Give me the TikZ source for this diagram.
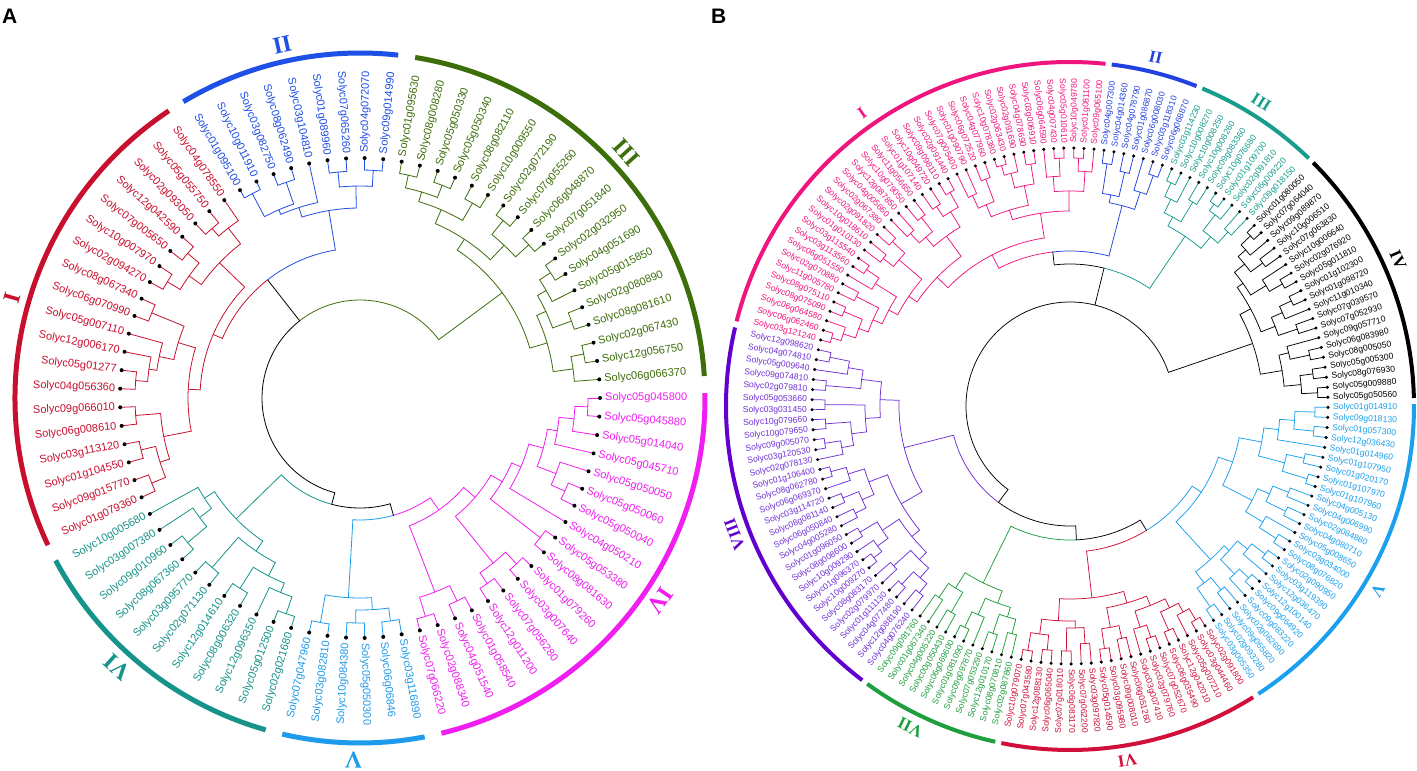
\documentclass[tikz,border=0pt]{standalone}
\usepackage{fontspec}
\setmainfont{Liberation Sans}
\newfontfamily\lserif{Liberation Serif}
\definecolor{cA1}{HTML}{C8102E}
\definecolor{cA2}{HTML}{1E4FE6}
\definecolor{cA3}{HTML}{3C6E0A}
\definecolor{cA4}{HTML}{F01EF0}
\definecolor{cA5}{HTML}{1E9BEB}
\definecolor{cA6}{HTML}{16938A}
\definecolor{cB1}{HTML}{F0147F}
\definecolor{cB2}{HTML}{2141E0}
\definecolor{cB3}{HTML}{179C8E}
\definecolor{cB4}{HTML}{000000}
\definecolor{cB5}{HTML}{1AA0EE}
\definecolor{cB6}{HTML}{D0103A}
\definecolor{cB7}{HTML}{1E9E3C}
\definecolor{cB8}{HTML}{7030D8}
\definecolor{rB8}{HTML}{6200D0}
\newcommand\Pos[1]{\csname P@#1\endcsname}
\newcommand\RadL[4]{%
  \pgfmathsetmacro\tkA{\off+(#1)*\stp}%
  \pgfmathsetmacro\tkR{#2}\pgfmathsetmacro\tkS{#3}%
  \draw[br,#4,shift={(\cx pt,\cy pt)}] (\tkA:\tkR pt) -- (\tkA:\tkS pt);}
\newcommand\ArcL[4]{%
  \pgfmathsetmacro\tkA{\off+(#2)*\stp}%
  \pgfmathsetmacro\tkB{\off+(#3)*\stp}%
  \pgfmathsetmacro\tkR{#1}%
  \draw[br,#4,shift={(\cx pt,\cy pt)}] (\tkA:\tkR pt) arc[start angle=\tkA,end angle=\tkB,radius=\tkR pt];}
\newcommand\Nd[4]{%
  \gdef\pmn{10000}\gdef\pmx{-10000}%
  \foreach \ch in {#4}{%
    \edef\pp{\csname P@\ch\endcsname}%
    \edef\rr{\csname R@\ch\endcsname}%
    \RadL{\pp}{#2}{\rr}{#3}%
    \pgfmathsetmacro\tmpv{min(\pmn,\pp)}\xdef\pmn{\tmpv}%
    \pgfmathsetmacro\tmpv{max(\pmx,\pp)}\xdef\pmx{\tmpv}%
  }%
  \ArcL{#2}{\pmn}{\pmx}{#3}%
  \pgfmathsetmacro\tmpv{(\pmn+\pmx)/2}%
  \expandafter\xdef\csname P@#1\endcsname{\tmpv}%
  \expandafter\xdef\csname R@#1\endcsname{#2}}
\newcommand\Jn[6]{%
  \edef\pA{\csname P@#3\endcsname}\edef\rA{\csname R@#3\endcsname}%
  \edef\pB{\csname P@#5\endcsname}\edef\rB{\csname R@#5\endcsname}%
  \pgfmathsetmacro\pM{(\pA+\pB)/2}%
  \RadL{\pA}{#2}{\rA}{#4}\RadL{\pB}{#2}{\rB}{#6}%
  \ArcL{#2}{\pA}{\pM}{#4}\ArcL{#2}{\pM}{\pB}{#6}%
  \expandafter\xdef\csname P@#1\endcsname{\pM}%
  \expandafter\xdef\csname R@#1\endcsname{#2}}
\newcommand\InitLeaves[3]{%
  \foreach \i in {1,...,#2}{%
    \expandafter\xdef\csname P@#1\i\endcsname{\i}%
    \expandafter\xdef\csname R@#1\i\endcsname{#3}}}
\newcommand\Lab[3]{%
  \pgfmathsetmacro\tkA{\off+(#1)*\stp}%
  \pgfmathsetmacro\tkX{\cx+\LR*cos(\tkA)}%
  \pgfmathsetmacro\tkY{\cy+\LR*sin(\tkA)}%
  \fill (\tkX pt,\tkY pt) circle[radius=\dotr pt];
  \pgfmathsetmacro\tkX{\cx+(\LR+\lgap)*cos(\tkA)}%
  \pgfmathsetmacro\tkY{\cy+(\LR+\lgap)*sin(\tkA)}%
  \pgfmathtruncatemacro\side{(cos(\tkA)>0.0001)?1:0}%
  \ifnum\side=1
    \node[anchor=west,rotate=\tkA,text=#3,font=\labfont,inner sep=0pt] (\pfx#1) at (\tkX pt,\tkY pt) {#2};%
  \else
    \pgfmathsetmacro\tkB{\tkA+180}%
    \node[anchor=east,rotate=\tkB,text=#3,font=\labfont,inner sep=0pt] (\pfx#1) at (\tkX pt,\tkY pt) {#2};%
  \fi}
\newcommand\Ring[4]{%
  \pgfmathsetmacro\tkA{\off+(#1)*\stp-#4}\pgfmathsetmacro\tkB{\off+(#2)*\stp+#4}%
  \draw[#3,line width=\ringw pt,shift={(\cx pt,\cy pt)}] (\tkA:\ringr pt) arc[start angle=\tkA,end angle=\tkB,radius=\ringr pt];}
\newcommand\Num[4]{%
  \pgfmathsetmacro\tkX{\cx+\numr*cos(#2)}%
  \pgfmathsetmacro\tkY{\cy+\numr*sin(#2)}%
  \pgfmathsetmacro\tkB{#2-90}%
  \node[rotate=\tkB,text=#4,font=\numfont,inner sep=0pt] (#1) at (\tkX pt,\tkY pt) {#3};}
\begin{document}
\begin{tikzpicture}[x=1pt,y=1pt]
\useasboundingbox[fill=white] (0,0) rectangle (1417,-771);
\node[font=\bfseries\fontsize{21}{24}\selectfont,anchor=north west,inner sep=0pt] (pA) at (2,-9) {A};
\node[font=\bfseries\fontsize{21}{24}\selectfont,anchor=north west,inner sep=0pt] (pB) at (711,-9) {B};
% ================= PANEL A =================
\def\cx{360}\def\cy{-398}\def\off{0}\def\stp{4.44444}\def\LR{240}
\def\dotr{2}\def\lgap{5}\def\pfx{la}\def\labfont{\fontsize{11}{13}\selectfont}
\def\ringr{345}\def\ringw{5}\def\numr{362}\def\numfont{\lserif\bfseries\fontsize{24}{26}\selectfont}
\tikzset{br/.style={line width=0.8pt,line cap=round}}
\InitLeaves{a}{81}{240}
% III
\Nd{Ax1}{228}{cA3}{a2,a3}
\Nd{Ax2}{215}{cA3}{a1,Ax1}
\Nd{Ax3}{225}{cA3}{a4,a5}
\Nd{Ax4}{228}{cA3}{a7,a8}
\Nd{Ax5}{215}{cA3}{a6,Ax4}
\Nd{Ax6}{205}{cA3}{Ax3,Ax5}
\Nd{Ax7}{195}{cA3}{Ax2,Ax6}
\Nd{Ax8}{228}{cA3}{a9,a10}
\Nd{Ax9}{228}{cA3}{a11,a12}
\Nd{Ax10}{210}{cA3}{Ax8,Ax9}
\Nd{Ax11}{225}{cA3}{a13,a14}
\Nd{Ax12}{228}{cA3}{a15,a16}
\Nd{Ax13}{228}{cA3}{a17,a18}
\Nd{Ax14}{215}{cA3}{Ax12,Ax13}
\Nd{Ax15}{205}{cA3}{Ax11,Ax14}
\Nd{Ax16}{190}{cA3}{Ax10,Ax15}
\Nd{AIII}{177}{cA3}{Ax7,Ax16}
% II
\Nd{Ay1}{228}{cA2}{a19,a20}
\Nd{Ay2}{227}{cA2}{a21,a22}
\Nd{Ay3}{212}{cA2}{Ay1,Ay2}
\Nd{Ay4}{228}{cA2}{a24,a25}
\Nd{Ay5}{231}{cA2}{a26,a27}
\Nd{Ay6}{205}{cA2}{Ay4,Ay5}
\Nd{Ay7}{200}{cA2}{a23,Ay6}
\Nd{AII}{190}{cA2}{Ay3,Ay7}
% I
\Nd{Az1}{225}{cA1}{a29,a30}
\Nd{Az2}{215}{cA1}{a28,Az1}
\Nd{Az3}{225}{cA1}{a31,a32}
\Nd{Az4}{225}{cA1}{a33,a34}
\Nd{Az5}{210}{cA1}{Az3,Az4}
\Nd{Az6}{195}{cA1}{Az2,Az5}
\Nd{Az7}{225}{cA1}{a35,a36}
\Nd{Az8}{225}{cA1}{a39,a40}
\Nd{Az9}{213}{cA1}{a38,Az8}
\Nd{Az10}{205}{cA1}{a37,Az9}
\Nd{Az11}{190}{cA1}{Az7,Az10}
\Nd{Az12}{225}{cA1}{a41,a42}
\Nd{Az13}{225}{cA1}{a43,a44}
\Nd{Az14}{225}{cA1}{a45,a46}
\Nd{Az15}{210}{cA1}{Az13,Az14}
\Nd{Az16}{200}{cA1}{Az12,Az15}
\Nd{Az17}{172}{cA1}{Az11,Az16}
\Nd{AI}{160}{cA1}{Az6,Az17}
\Jn{AI2}{150}{AII}{cA2}{AI}{cA1}
% VI
\Nd{Aw1}{225}{cA6}{a49,a50}
\Nd{Aw2}{200}{cA6}{a48,Aw1}
\Nd{Aw3}{185}{cA6}{a47,Aw2}
\Nd{Aw4}{225}{cA6}{a51,a52}
\Nd{Aw5}{225}{cA6}{a53,a54}
\Nd{Aw6}{228}{cA6}{a56,a57}
\Nd{Aw7}{210}{cA6}{a55,Aw6}
\Nd{Aw8}{200}{cA6}{Aw5,Aw7}
\Nd{Aw9}{185}{cA6}{Aw4,Aw8}
\Nd{AVI}{173}{cA6}{Aw3,Aw9}
% V
\Nd{Av1}{228}{cA5}{a58,a59}
\Nd{Av2}{225}{cA5}{a60,a61}
\Nd{Av3}{225}{cA5}{a62,a63}
\Nd{Av4}{212}{cA5}{Av2,Av3}
\Nd{AV}{200}{cA5}{Av1,Av4}
% IV
\Nd{Au1}{228}{cA4}{a64,a65}
\Nd{Au2}{225}{cA4}{a66,a67}
\Nd{Au3}{208}{cA4}{Au1,Au2}
\Nd{Au4}{225}{cA4}{a68,a69}
\Nd{Au5}{228}{cA4}{a70,a71}
\Nd{Au6}{212}{cA4}{Au4,Au5}
\Nd{Au7}{228}{cA4}{a72,a73}
\Nd{Au8}{225}{cA4}{a75,a76}
\Nd{Au9}{210}{cA4}{Au8,a77}
\Nd{Au10}{228}{cA4}{a80,a81}
\Nd{Au11}{215}{cA4}{a79,Au10}
\Nd{Au12}{200}{cA4}{a78,Au11}
\Nd{Au13}{190}{cA4}{Au9,Au12}
\Nd{Au14}{175}{cA4}{a74,Au13}
\Nd{Au15}{165}{cA4}{Au7,Au14}
\Nd{Au16}{152}{cA4}{Au6,Au15}
\Nd{AIV}{137}{cA4}{Au3,Au16}
\Jn{AVIV}{122}{AV}{cA5}{AIV}{cA4}
\Jn{ALow}{110}{AVI}{cA6}{AVIV}{black}
% root A
\ArcL{98}{\Pos{AIII}}{\Pos{AI2}}{cA3}
\ArcL{98}{\Pos{AI2}}{\Pos{ALow}}{black}
\RadL{\Pos{AIII}}{98}{177}{cA3}
\RadL{\Pos{AI2}}{98}{150}{black}
\RadL{\Pos{ALow}}{98}{110}{black}
% labels A
\foreach \i/\tx in {1/Solyc06g066370,2/Solyc12g056750,3/Solyc02g067430,4/Solyc08g081610,5/Solyc02g080890,6/Solyc05g015850,7/Solyc04g051690,8/Solyc02g032950,9/Solyc07g051840,10/Solyc06g048870,11/Solyc07g055260,12/Solyc02g072190,13/Solyc10g009550,14/Solyc08g082110,15/Solyc05g050340,16/Solyc05g050330,17/Solyc08g008280,18/Solyc01g095630}{\Lab{\i}{\tx}{cA3}}
\foreach \i/\tx in {19/Solyc09g014990,20/Solyc04g072070,21/Solyc07g065260,22/Solyc01g089960,23/Solyc03g104810,24/Solyc08g062490,25/Solyc03g082750,26/Solyc10g011910,27/Solyc01g095100}{\Lab{\i}{\tx}{cA2}}
\foreach \i/\tx in {28/Solyc04g078550,29/Solyc05g055750,30/Solyc02g093050,31/Solyc12g042590,32/Solyc07g005650,33/Solyc10g007970,34/Solyc02g094270,35/Solyc08g067340,36/Solyc06g070990,37/Solyc05g007110,38/Solyc12g006170,39/Solyc05g01277,40/Solyc04g056360,41/Solyc09g066010,42/Solyc06g008610,43/Solyc03g113120,44/Solyc01g104550,45/Solyc09g015770,46/Solyc01g079360}{\Lab{\i}{\tx}{cA1}}
\foreach \i/\tx in {47/Solyc10g005680,48/Solyc03g007380,49/Solyc09g010960,50/Solyc08g067360,51/Solyc03g095770,52/Solyc02g071130,53/Solyc12g014610,54/Solyc08g006320,55/Solyc12g096350,56/Solyc05g012500,57/Solyc02g021680}{\Lab{\i}{\tx}{cA6}}
\foreach \i/\tx in {58/Solyc07g047960,59/Solyc03g082810,60/Solyc10g084380,61/Solyc05g050300,62/Solyc06g06846,63/Solyc03g116890}{\Lab{\i}{\tx}{cA5}}
\foreach \i/\tx in {64/Solyc07g066220,65/Solyc02g088340,66/Solyc04g051540,67/Solyc01g058540,68/Solyc12g011200,69/Solyc07g056280,70/Solyc03g007640,71/Solyc01g079260,72/Solyc08g081630,73/Solyc05g053380,74/Solyc04g050210,75/Solyc05g050040,76/Solyc05g050060,77/Solyc05g050050,78/Solyc05g045710,79/Solyc05g014040,80/Solyc05g045880,81/Solyc05g045800}{\Lab{\i}{\tx}{cA4}}
% rings A
\Ring{28}{46}{cA1}{0.8}
\Ring{19}{27}{cA2}{0.8}
\Ring{1}{18}{cA3}{0.8}
\Ring{64}{81}{cA4}{0.8}
\Ring{58}{63}{cA5}{0.8}
\Ring{47}{57}{cA6}{0.8}
\Num{nAI}{164}{I}{cA1}
\Num{nAII}{102.4}{II}{cA2}
\Num{nAIII}{42.6}{III}{cA3}
\Num{nAIV}{326}{IV}{cA4}
\Num{nAV}{269}{V}{cA5}
\Num{nAVI}{228}{VI}{cA6}
% ================= PANEL B =================
\def\cx{1070}\def\cy{-406}\def\off{-0.3}\def\stp{2.23602}\def\LR{258}
\def\dotr{1.7}\def\lgap{5}\def\pfx{lb}\def\labfont{\fontsize{8.6}{10}\selectfont}
\def\ringr{344}\def\ringw{4}\def\numr{359}\def\numfont{\lserif\bfseries\fontsize{17}{19}\selectfont}
\tikzset{br/.style={line width=0.75pt,line cap=round}}
\InitLeaves{b}{161}{258}
% IV
\Nd{Bd1}{248}{cB4}{b1,b2}
\Nd{Bd2}{245}{cB4}{b3,b4}
\Nd{Bd3}{232}{cB4}{Bd1,Bd2}
\Nd{Bd4}{245}{cB4}{b5,b6}
\Nd{Bd5}{225}{cB4}{Bd4,b7}
\Nd{Bd6}{215}{cB4}{Bd3,Bd5}
\Nd{Bd7}{240}{cB4}{b8,b9}
\Nd{Bd8}{245}{cB4}{b11,b12}
\Nd{Bd9}{232}{cB4}{b10,Bd8}
\Nd{Bd10}{220}{cB4}{Bd7,Bd9}
\Nd{Bd11}{245}{cB4}{b13,b14}
\Nd{Bd12}{230}{cB4}{Bd11,b15}
\Nd{Bd13}{240}{cB4}{b16,b17}
\Nd{Bd14}{248}{cB4}{b19,b20}
\Nd{Bd15}{235}{cB4}{b18,Bd14}
\Nd{Bd16}{225}{cB4}{Bd13,Bd15}
\Nd{Bd17}{212}{cB4}{Bd12,Bd16}
\Nd{Bd18}{205}{cB4}{Bd10,Bd17}
\Nd{BIV}{193}{cB4}{Bd6,Bd18}
% III
\Nd{Bc1}{235}{cB3}{b21,b22}
\Nd{Bc2}{248}{cB3}{b24,b25}
\Nd{Bc3}{240}{cB3}{b23,Bc2}
\Nd{Bc4}{220}{cB3}{Bc1,Bc3}
\Nd{Bc5}{238}{cB3}{b26,b27}
\Nd{Bc6}{245}{cB3}{b29,b30}
\Nd{Bc7}{230}{cB3}{b28,Bc6}
\Nd{Bc8}{215}{cB3}{Bc5,Bc7}
\Nd{BIII}{205}{cB3}{Bc4,Bc8}
% II
\Nd{Bb1}{245}{cB2}{b31,b32}
\Nd{Bb2}{225}{cB2}{Bb1,b33}
\Nd{Bb3}{240}{cB2}{b34,b35}
\Nd{Bb4}{245}{cB2}{b36,b37}
\Nd{Bb5}{215}{cB2}{Bb3,Bb4}
\Nd{BII}{207}{cB2}{Bb2,Bb5}
% I
\Nd{Ba1}{248}{cB1}{b39,b40}
\Nd{Ba2}{235}{cB1}{b38,Ba1}
\Nd{Ba3}{248}{cB1}{b41,b42}
\Nd{Ba4}{230}{cB1}{Ba3,b43}
\Nd{Ba5}{215}{cB1}{Ba2,Ba4}
\Nd{Ba6}{245}{cB1}{b44,b45}
\Nd{Ba7}{250}{cB1}{b47,b48}
\Nd{Ba8}{240}{cB1}{b46,Ba7}
\Nd{Ba9}{225}{cB1}{Ba6,Ba8}
\Nd{Ba10}{242}{cB1}{b49,b50}
\Nd{Ba11}{232}{cB1}{b51,b52}
\Nd{Ba12}{218}{cB1}{Ba10,Ba11}
\Nd{Ba13}{205}{cB1}{Ba9,Ba12}
\Nd{Ba14}{195}{cB1}{Ba5,Ba13}
\Nd{Ba15}{245}{cB1}{b53,b54}
\Nd{Ba16}{240}{cB1}{b55,b56}
\Nd{Ba17}{228}{cB1}{Ba15,Ba16}
\Nd{Ba18}{240}{cB1}{b57,b58}
\Nd{Ba19}{235}{cB1}{b59,b60}
\Nd{Ba20}{222}{cB1}{Ba18,Ba19}
\Nd{Ba21}{210}{cB1}{Ba17,Ba20}
\Nd{Ba22}{242}{cB1}{b61,b62}
\Nd{Ba23}{238}{cB1}{b63,b64}
\Nd{Ba24}{225}{cB1}{Ba22,Ba23}
\Nd{Ba25}{245}{cB1}{b65,b66}
\Nd{Ba26}{230}{cB1}{Ba25,b67}
\Nd{Ba27}{240}{cB1}{b68,b69}
\Nd{Ba28}{245}{cB1}{b70,b71}
\Nd{Ba29}{248}{cB1}{b73,b74}
\Nd{Ba30}{238}{cB1}{b72,Ba29}
\Nd{Ba31}{225}{cB1}{Ba28,Ba30}
\Nd{Ba32}{215}{cB1}{Ba27,Ba31}
\Nd{Ba33}{205}{cB1}{Ba26,Ba32}
\Nd{Ba34}{195}{cB1}{Ba24,Ba33}
\Nd{Ba35}{185}{cB1}{Ba21,Ba34}
\Nd{BI}{170}{cB1}{Ba14,Ba35}
\Jn{BN5}{155}{BII}{cB2}{BI}{cB1}
\Jn{BN4}{142}{BIII}{cB3}{BN5}{black}
% VIII
\Nd{Bh1}{245}{cB8}{b75,b76}
\Nd{Bh2}{225}{cB8}{Bh1,b77}
\Nd{Bh3}{245}{cB8}{b78,b79}
\Nd{Bh4}{210}{cB8}{Bh2,Bh3}
\Nd{Bh5}{245}{cB8}{b80,b81}
\Nd{Bh6}{245}{cB8}{b82,b83}
\Nd{Bh7}{248}{cB8}{b84,b85}
\Nd{Bh8}{232}{cB8}{Bh7,b86}
\Nd{Bh9}{220}{cB8}{Bh6,Bh8}
\Nd{Bh10}{205}{cB8}{Bh5,Bh9}
\Nd{Bh11}{190}{cB8}{Bh4,Bh10}
\Nd{Bh12}{248}{cB8}{b87,b88}
\Nd{Bh13}{232}{cB8}{Bh12,b89}
\Nd{Bh14}{245}{cB8}{b90,b91}
\Nd{Bh15}{240}{cB8}{b92,b93}
\Nd{Bh16}{228}{cB8}{Bh14,Bh15}
\Nd{Bh17}{215}{cB8}{Bh13,Bh16}
\Nd{Bh18}{245}{cB8}{b94,b95}
\Nd{Bh19}{248}{cB8}{b97,b98}
\Nd{Bh20}{238}{cB8}{b96,Bh19}
\Nd{Bh21}{225}{cB8}{Bh18,Bh20}
\Nd{Bh22}{238}{cB8}{b99,b100}
\Nd{Bh23}{245}{cB8}{b101,b102}
\Nd{Bh24}{240}{cB8}{b103,b104}
\Nd{Bh25}{228}{cB8}{Bh23,Bh24}
\Nd{Bh26}{215}{cB8}{Bh22,Bh25}
\Nd{Bh27}{205}{cB8}{Bh21,Bh26}
\Nd{Bh28}{195}{cB8}{Bh17,Bh27}
\Nd{BVIII}{171}{cB8}{Bh11,Bh28}
% VII
\Nd{Bg1}{232}{cB7}{b105,b106}
\Nd{Bg2}{238}{cB7}{b107,b108}
\Nd{Bg3}{215}{cB7}{Bg1,Bg2}
\Nd{Bg4}{245}{cB7}{b109,b110}
\Nd{Bg5}{228}{cB7}{Bg4,b111}
\Nd{Bg6}{240}{cB7}{b112,b113}
\Nd{Bg7}{235}{cB7}{b114,b115}
\Nd{Bg8}{220}{cB7}{Bg6,Bg7}
\Nd{Bg9}{210}{cB7}{Bg5,Bg8}
\Nd{BVII}{197}{cB7}{Bg3,Bg9}
% VI
\Nd{Bf1}{248}{cB6}{b116,b117}
\Nd{Bf2}{245}{cB6}{b118,b119}
\Nd{Bf3}{230}{cB6}{Bf1,Bf2}
\Nd{Bf4}{245}{cB6}{b120,b121}
\Nd{Bf5}{238}{cB6}{b122,b123}
\Nd{Bf6}{222}{cB6}{Bf4,Bf5}
\Nd{Bf7}{215}{cB6}{Bf3,Bf6}
\Nd{Bf8}{245}{cB6}{b124,b125}
\Nd{Bf9}{238}{cB6}{b126,b127}
\Nd{Bf10}{225}{cB6}{Bf8,Bf9}
\Nd{Bf11}{245}{cB6}{b129,b130}
\Nd{Bf12}{232}{cB6}{b128,Bf11}
\Nd{Bf13}{245}{cB6}{b131,b132}
\Nd{Bf14}{248}{cB6}{b134,b135}
\Nd{Bf15}{235}{cB6}{b133,Bf14}
\Nd{Bf16}{225}{cB6}{Bf13,Bf15}
\Nd{Bf17}{215}{cB6}{Bf12,Bf16}
\Nd{Bf18}{205}{cB6}{Bf10,Bf17}
\Nd{BVI}{193}{cB6}{Bf7,Bf18}
% V
\Nd{Be1}{245}{cB5}{b136,b137}
\Nd{Be2}{238}{cB5}{b138,b139}
\Nd{Be3}{222}{cB5}{Be1,Be2}
\Nd{Be4}{248}{cB5}{b141,b142}
\Nd{Be5}{235}{cB5}{b140,Be4}
\Nd{Be6}{245}{cB5}{b144,b145}
\Nd{Be7}{228}{cB5}{b143,Be6}
\Nd{Be8}{215}{cB5}{Be5,Be7}
\Nd{Be9}{208}{cB5}{Be3,Be8}
\Nd{Be10}{245}{cB5}{b146,b147}
\Nd{Be11}{225}{cB5}{Be10,b148}
\Nd{Be12}{240}{cB5}{b149,b150}
\Nd{Be13}{235}{cB5}{b151,b152}
\Nd{Be14}{218}{cB5}{Be12,Be13}
\Nd{Be15}{205}{cB5}{Be11,Be14}
\Nd{Be16}{248}{cB5}{b153,b154}
\Nd{Be17}{240}{cB5}{b155,b156}
\Nd{Be18}{222}{cB5}{Be16,Be17}
\Nd{Be19}{245}{cB5}{b158,b159}
\Nd{Be20}{245}{cB5}{b160,b161}
\Nd{Be21}{225}{cB5}{Be19,Be20}
\Nd{Be22}{210}{cB5}{b157,Be21}
\Nd{Be23}{195}{cB5}{Be18,Be22}
\Nd{Be24}{172}{cB5}{Be15,Be23}
\Nd{BV}{157}{cB5}{Be9,Be24}
\Jn{BN3}{146}{BVI}{cB6}{BV}{cB5}
\Jn{BN2}{134}{BVII}{cB7}{BN3}{black}
\Jn{BN1}{120}{BVIII}{cB8}{BN2}{black}
% root B
\ArcL{104}{\Pos{BIV}}{\Pos{BN1}}{black}
\RadL{\Pos{BIV}}{104}{193}{black}
\RadL{\Pos{BN4}}{104}{142}{black}
\RadL{\Pos{BN1}}{104}{120}{black}
% labels B
\foreach \i/\tx in {1/Solyc05g050560,2/Solyc05g009880,3/Solyc08g076930,4/Solyc05g005300,5/Solyc08g005050,6/Solyc06g083980,7/Solyc09g057710,8/Solyc07g052930,9/Solyc07g039570,10/Solyc11g010340,11/Solyc01g098720,12/Solyc01g102300,13/Solyc05g011810,14/Solyc02g076920,15/Solyc10g006640,16/Solyc07g063830,17/Solyc10g006510,18/Solyc09g089870,19/Solyc07g064040,20/Solyc01g080050}{\Lab{\i}{\tx}{cB4}}
\foreach \i/\tx in {21/Solyc09g018150,22/Solyc06g009220,23/Solyc02g091810,24/Solyc01g109700,25/Solyc10g076680,26/Solyc09g083360,27/Solyc10g008260,28/Solyc10g008250,29/Solyc10g008270,30/Solyc03g114230}{\Lab{\i}{\tx}{cB3}}
\foreach \i/\tx in {31/Solyc06g068870,32/Solyc03g118310,33/Solyc06g008030,34/Solyc01g086870,35/Solyc04g078790,36/Solyc04g014360,37/Solyc04g007300}{\Lab{\i}{\tx}{cB2}}
\foreach \i/\tx in {38/Solyc09g065100,39/Solyc01g081100,40/Solyc10g049780,41/Solyc05g010610,42/Solyc04g007430,43/Solyc06g064590,44/Solyc03g006910,45/Solyc04g078690,46/Solyc02g091690,47/Solyc02g063430,48/Solyc10g078380,49/Solyc04g077960,50/Solyc06g072520,51/Solyc01g090790,52/Solyc07g005400,53/Solyc02g091440,54/Solyc09g098110,55/Solyc10g049720,56/Solyc01g107140,57/Solyc11g056650,58/Solyc10g079050,59/Solyc12g087850,60/Solyc04g005660,61/Solyc02g067380,62/Solyc02g091820,63/Solyc10g018610,64/Solyc01g010130,65/Solyc03g115540,66/Solyc03g113560,67/Solyc06g051550,68/Solyc02g070880,69/Solyc11g005780,70/Solyc08g075110,71/Solyc08g075090,72/Solyc06g064580,73/Solyc06g062460,74/Solyc03g121240}{\Lab{\i}{\tx}{cB1}}
\foreach \i/\tx in {75/Solyc12g098620,76/Solyc04g074810,77/Solyc05g009640,78/Solyc09g074810,79/Solyc02g079810,80/Solyc05g053660,81/Solyc03g031450,82/Solyc10g079660,83/Solyc10g079650,84/Solyc09g005070,85/Solyc03g120530,86/Solyc02g078130,87/Solyc01g106400,88/Solyc08g062780,89/Solyc06g069370,90/Solyc03g114720,91/Solyc08g081140,92/Solyc06g050840,93/Solyc04g005280,94/Solyc01g096050,95/Solyc08g008600,96/Solyc10g009290,97/Solyc01g096370,98/Solyc10g009270,99/Solyc08g083170,100/Solyc02g079970,101/Solyc01g111130,102/Solyc04g077480,103/Solyc12g088190,104/Solyc04g076240}{\Lab{\i}{\tx}{cB8}}
\foreach \i/\tx in {105/Solyc09g091760,106/Solyc01g067340,107/Solyc04g005220,108/Solyc00g050430,109/Solyc06g069600,110/Solyc01g081090,111/Solyc09g097870,112/Solyc07g053290,113/Solyc12g010170,114/Solyc08g070810,115/Solyc02g087860}{\Lab{\i}{\tx}{cB7}}
\foreach \i/\tx in {116/Solyc10g079070,117/Solyc07g043580,118/Solyc12g088130,119/Solyc06g065040,120/Solyc07g018010,121/Solyc06g083170,122/Solyc07g062200,123/Solyc03g097820,124/Solyc05g014590,125/Solyc03g095980,126/Solyc09g008010,127/Solyc06g051260,128/Solyc03g007410,129/Solyc02g079760,130/Solyc07g052670,131/Solyc06g035490,132/Solyc12g042010,133/Solyc05g007210,134/Solyc03g044460,135/Solyc02g091800}{\Lab{\i}{\tx}{cB6}}
\foreach \i/\tx in {136/Solyc03g005350,137/Solyc02g093280,138/Solyc09g065820,139/Solyc02g062690,140/Solyc09g083220,141/Solyc09g064920,142/Solyc12g100140,143/Solyc12g036470,144/Solyc03g119390,145/Solyc02g090950,146/Solyc08g076820,147/Solyc03g034000,148/Solyc05g008650,149/Solyc04g080710,150/Solyc02g084880,151/Solyc04g006990,152/Solyc04g005130,153/Solyc01g107960,154/Solyc01g107970,155/Solyc01g020170,156/Solyc01g107950,157/Solyc01g014960,158/Solyc12g036430,159/Solyc01g057300,160/Solyc09g018130,161/Solyc01g014910}{\Lab{\i}{\tx}{cB5}}
% rings B
\Ring{38}{74}{cB1}{0.6}
\Ring{31}{37}{cB2}{0.6}
\Ring{21}{30}{cB3}{0.6}
\Ring{1}{20}{cB4}{0.6}
\Ring{136}{161}{cB5}{0.6}
\Ring{116}{135}{cB6}{0.6}
\Ring{105}{115}{cB7}{0.6}
\Ring{75}{104}{rB8}{0.6}
\Num{nBI}{125.4}{I}{cB1}
\Num{nBII}{76.2}{II}{cB2}
\Num{nBIII}{57.8}{III}{cB3}
\Num{nBIV}{24}{IV}{cB4}
\Num{nBV}{329}{V}{cB5}
\Num{nBVI}{279.2}{VI}{cB6}
\Num{nBVII}{243.6}{VII}{cB7}
\Num{nBVIII}{200.9}{VIII}{rB8}
\end{tikzpicture}
\end{document}
